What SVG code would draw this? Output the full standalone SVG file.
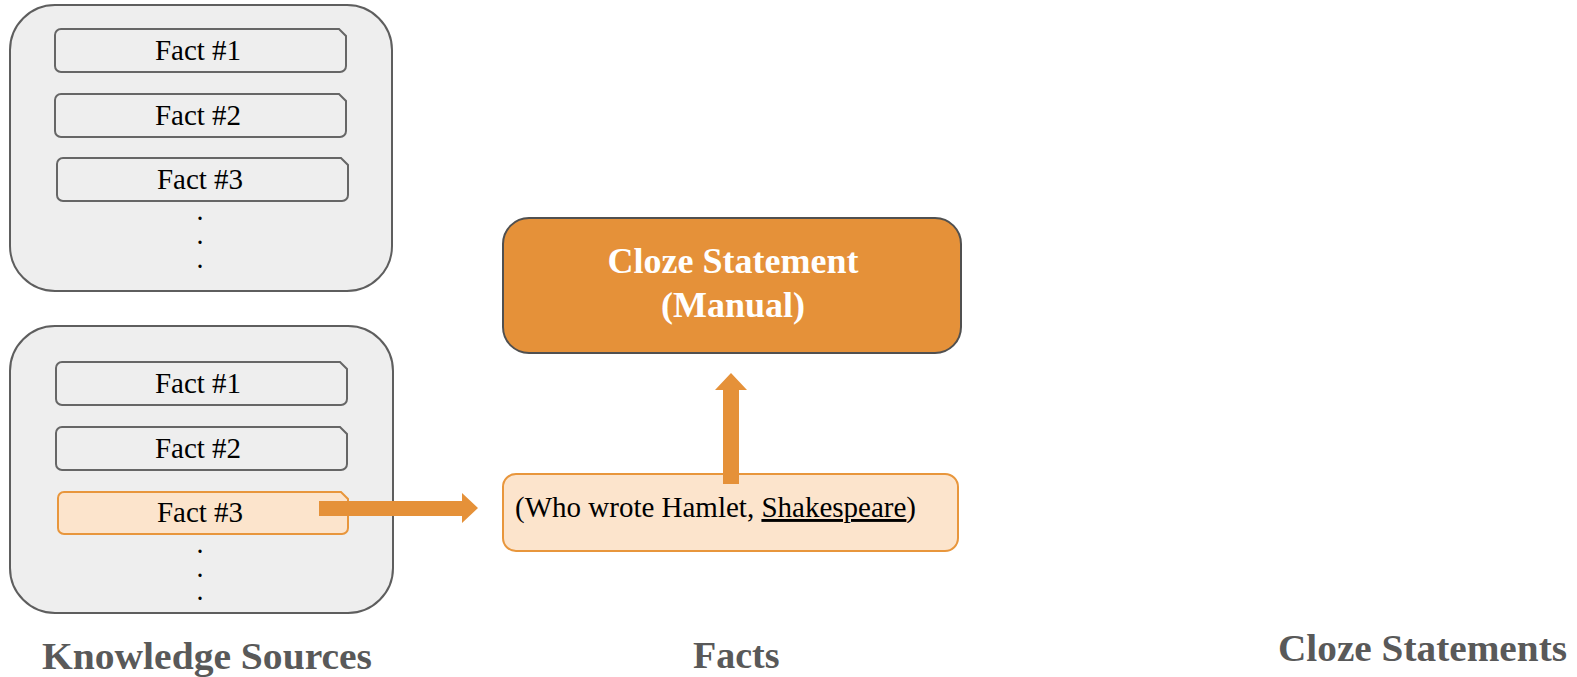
<svg xmlns="http://www.w3.org/2000/svg" width="1577" height="677" viewBox="0 0 1577 677">
<defs>
<style>
.outer{fill:#EEEEEE;stroke:#5E5E5E;stroke-width:2}
.fact{fill:#EEEEEE;stroke:#666666;stroke-width:2}
.hl{fill:#FCE4CC;stroke:#E8963C;stroke-width:2}
.cloze{fill:#E59139;stroke:#505050;stroke-width:2}
.arrow{fill:#E59139}
.t{font-family:"Liberation Serif","Times New Roman",serif;font-size:29px;fill:#000}
.tc{text-anchor:middle}
.hd{font-family:"Liberation Serif","Times New Roman",serif;font-weight:bold;font-size:36px;fill:#FFFFFF;text-anchor:middle}
.lbl{font-family:"Liberation Serif","Times New Roman",serif;font-weight:bold;font-size:38px;fill:#595959}
.dot{font-family:"Liberation Serif",serif;font-weight:bold;font-size:20px;fill:#000;text-anchor:middle}
</style>
</defs>

<g id="source1">
<rect class="outer" x="10" y="5" width="382" height="286" rx="45" ry="45"/>
<g id="s1-fact1"><path class="fact" d="M61,29 H339 L346,36 V66 A6,6 0 0 1 340,72 H61 A6,6 0 0 1 55,66 V35 A6,6 0 0 1 61,29 Z"/><text class="t tc" x="198" y="60">Fact #1</text></g>
<g id="s1-fact2"><path class="fact" d="M61,94 H339 L346,101 V131 A6,6 0 0 1 340,137 H61 A6,6 0 0 1 55,131 V100 A6,6 0 0 1 61,94 Z"/><text class="t tc" x="198" y="125">Fact #2</text></g>
<g id="s1-fact3"><path class="fact" d="M63,158 H341 L348,165 V195 A6,6 0 0 1 342,201 H63 A6,6 0 0 1 57,195 V164 A6,6 0 0 1 63,158 Z"/><text class="t tc" x="200" y="189">Fact #3</text></g>
<text class="dot" x="200" y="220">.</text>
<text class="dot" x="200" y="244">.</text>
<text class="dot" x="200" y="268">.</text>
</g>

<g id="source2">
<rect class="outer" x="10" y="326" width="383" height="287" rx="45" ry="45"/>
<g id="s2-fact1"><path class="fact" d="M62,362 H340 L347,369 V399 A6,6 0 0 1 341,405 H62 A6,6 0 0 1 56,399 V368 A6,6 0 0 1 62,362 Z"/><text class="t tc" x="198" y="393">Fact #1</text></g>
<g id="s2-fact2"><path class="fact" d="M62,427 H340 L347,434 V464 A6,6 0 0 1 341,470 H62 A6,6 0 0 1 56,464 V433 A6,6 0 0 1 62,427 Z"/><text class="t tc" x="198" y="458">Fact #2</text></g>
<g id="s2-fact3"><path class="hl" d="M64,492 H341 L348,499 V528 A6,6 0 0 1 342,534 H64 A6,6 0 0 1 58,528 V498 A6,6 0 0 1 64,492 Z"/><text class="t tc" x="200" y="522">Fact #3</text></g>
<text class="dot" x="200" y="553">.</text>
<text class="dot" x="200" y="577">.</text>
<text class="dot" x="200" y="600">.</text>
</g>

<g id="fact-node">
<rect class="hl" x="503" y="474" width="455" height="77" rx="13" ry="13"/>
<text class="t" x="515" y="517">(Who wrote Hamlet, <tspan text-decoration="underline">Shakespeare</tspan>)</text>
</g>

<g id="cloze-node">
<rect class="cloze" x="503" y="218" width="458" height="135" rx="26" ry="26"/>
<text class="hd" x="733" y="273">Cloze Statement</text>
<text class="hd" x="733" y="317">(Manual)</text>
</g>

<g id="connectors">
<polygon class="arrow" points="319,501 462,501 462,493 478,508 462,523 462,516 319,516"/>
<polygon class="arrow" points="723,484 739,484 739,390 747,390 731,373 715,390 723,390"/>
</g>

<g id="labels">
<text class="lbl" x="42" y="669" textLength="330" lengthAdjust="spacingAndGlyphs">Knowledge Sources</text>
<text class="lbl" x="693" y="668">Facts</text>
<text class="lbl" x="1278" y="661" textLength="289" lengthAdjust="spacingAndGlyphs">Cloze Statements</text>
</g>
</svg>
